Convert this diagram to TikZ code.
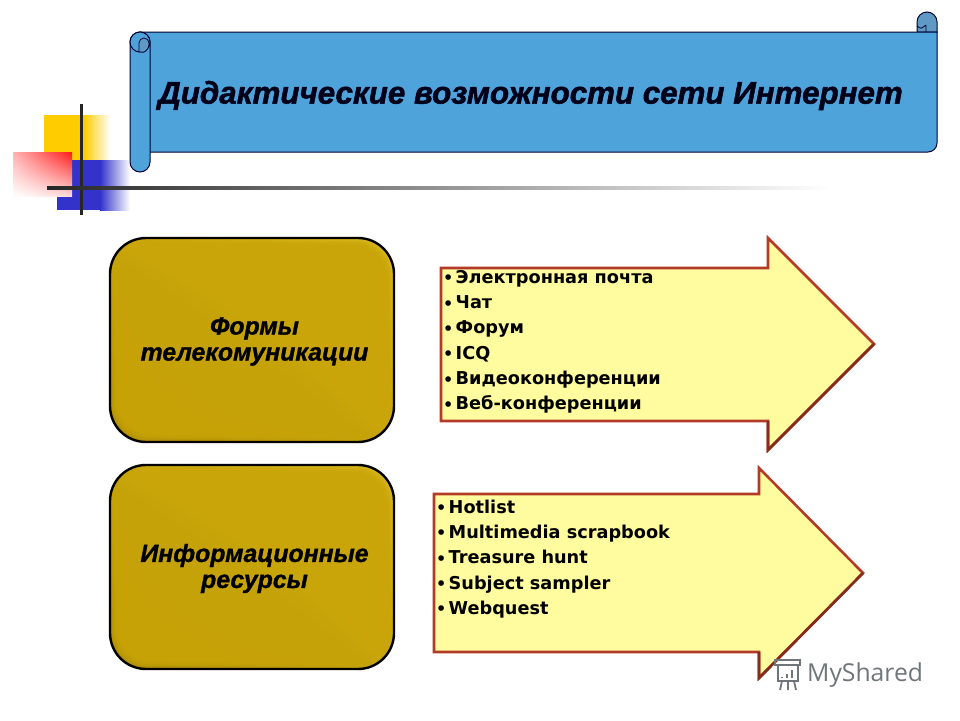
\documentclass[tikz,border=0pt]{standalone}
\usepackage{fontspec}
\setmainfont{DejaVu Sans}
\newfontfamily\headfont[FakeBold=1.6]{Liberation Sans}
\newfontfamily\boxfont[FakeBold=1.2]{Liberation Sans}
\newfontfamily\markfont{Open Sans}
\usepackage{tikz}
\usetikzlibrary{shadings}
\definecolor{scrollblue}{HTML}{4FA3DB}
\definecolor{scrollcurl}{HTML}{5F9AC4}
\definecolor{squareyellow}{HTML}{FFCC00}
\definecolor{squareblue}{HTML}{3333CC}
\definecolor{gold}{HTML}{C9A509}
\definecolor{goldlight}{HTML}{E6C52A}
\definecolor{golddark}{HTML}{9C8004}
\definecolor{arrowfill}{HTML}{FFFB9F}
\definecolor{arrowline}{HTML}{B23A26}
\definecolor{markgray}{HTML}{6E7679}
\newcommand{\itm}{\makebox[8pt][l]{\hspace{-4.7pt}\raisebox{-0.5pt}{\fontsize{16}{16}\selectfont\textbullet}}}
\begin{document}
\begin{tikzpicture}[x=1pt,y=-1pt,
		scroll/.style={draw=black!80!blue,line width=1pt,fill=scrollblue},
		pointer/.style={draw=arrowline,line width=2.6pt,fill=arrowfill,line join=miter},
		listtext/.style={inner sep=0pt,anchor=north west,align=left,font=\bfseries\fontsize{17.7}{25.3}\selectfont},
		boxtext/.style={inner sep=0pt,align=center,font=\boxfont\bfseries\itshape\fontsize{24.8}{26}\selectfont},
		headtext/.style={inner sep=0pt,font=\headfont\bfseries\itshape\fontsize{31.3}{36}\selectfont}]
	\useasboundingbox (0,0) rectangle (960,720);
	% corner squares
	\fill [squareyellow] (44,115) rectangle (84,165);
	\shade [left color=squareyellow,right color=white] (84,115) rectangle (110,165);
	\fill [squareblue] (57,160) rectangle (100,210);
	\shade [left color=squareblue,right color=white] (100,160) rectangle (130,210);
	\shade [upper right=red!90!white,upper left=red!30,lower right=red!15,lower left=white] (13,152) rectangle (72,196);
	\draw [line width=3pt,black!85] (81,104) -- (81,215);
	\shade [left color=black!85,right color=white] (47,186.7) rectangle (830,189.3);
	% scroll
	\draw [scroll,fill=scrollcurl] (917,22) arc (180:360:10) -- (937,32) -- (917,32) -- cycle;
	\draw [draw=black!80!blue,line width=0.8pt] (926,32) -- (926,25) (917,26) .. controls (921,29) .. (926,25);
	\draw [scroll] (140,32) -- (937,32) -- (937,143) arc (0:90:9) -- (150,152) -- (140,152) -- cycle;
	\draw [scroll] (130,42) arc (180:360:10) -- (150,162) arc (0:180:10) -- cycle;
	\draw [scroll] (140,42) circle (10);
	\draw [draw=black!80!blue,line width=0.8pt,fill=scrollcurl] (139,52) -- (139,43) arc (180:360:5) -- (149,44) arc (0:65:9) -- cycle;
	\node [headtext,text=black!90!blue] (head) at (530.5,95.5) {Дидактические возможности сети Интернет};
	% gold boxes
	\foreach \nm/\cy/\txt in {forms/340/{Формы\\телекомуникации},resources/567/{Информационные\\ресурсы}} {
		\shade [rounded corners=36pt,upper right=goldlight,upper left=gold,lower right=gold,lower left=golddark] (110,\cy-102) rectangle (394,\cy+102);
		\foreach \i in {1,...,9}
			\fill [gold,opacity=0.3,rounded corners=34pt] (110+\i,\cy-102+\i) rectangle (394-\i,\cy+102-\i);
		\draw [black,line width=2.4pt,rounded corners=36pt] (110,\cy-102) rectangle (394,\cy+102);
		\node [boxtext,text=black] (\nm) at (254.5,\cy+1.5) {\txt};
	}
	% pointers
	\draw [pointer] (441,268) -- (768,268) -- (768,238) -- (874,344) -- (768,450) -- (768,421) -- (441,421) -- cycle;
	\draw [line width=2.6pt,arrowline!75!black] (874,344) -- (768,450) -- (768,421);
	\draw [pointer] (434,494) -- (759,494) -- (759,468) -- (863,573) -- (759,678) -- (759,652) -- (434,652) -- cycle;
	\draw [line width=2.6pt,arrowline!75!black] (863,573) -- (759,678) -- (759,652);
	\node [listtext] (comms) at (447.5,270) {\itm Электронная почта\\\itm Чат\\\itm Форум\\\itm ICQ\\\itm Видеоконференции\\\itm Веб-конференции};
	\node [listtext] (webtasks) at (440.5,499.5) {\itm Hotlist\\\itm Multimedia scrapbook\\\itm Treasure hunt\\\itm Subject sampler\\\itm Webquest};
	% watermark
	\draw [markgray,line width=1.8pt] (775,660) -- (800,660) -- (800,665) -- (775,665) -- cycle;
	\draw [markgray,line width=1.8pt] (778,665) -- (778,681) -- (798,681) -- (798,665);
	\draw [markgray,line width=1.8pt] (782,681) -- (780,690) (788,681) -- (788,690) (794,681) -- (796,690);
	\foreach \bx/\by in {782/677,787/674,792/670}
		\draw [markgray,line width=2.4pt] (\bx,678) -- (\bx,\by);
	\node [inner sep=0pt,anchor=west,text=markgray,font=\markfont\fontsize{24.7}{26}\selectfont] (mark) at (807,675) {MyShared};
\end{tikzpicture}
\end{document}
